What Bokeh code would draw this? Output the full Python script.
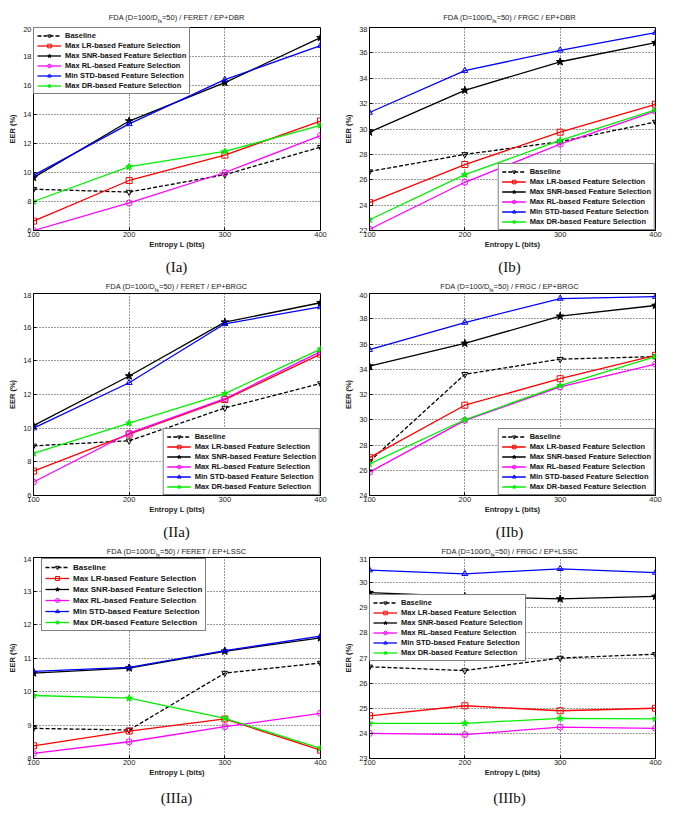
from bokeh.plotting import figure
from bokeh.models import Range1d, Legend, LegendItem, Div
from bokeh.layouts import column, row
from bokeh.embed import file_html
from bokeh.resources import INLINE

# ---------------- data ----------------
entropy = [100, 200, 300, 400]
series_labels = ["Baseline",
                 "Max LR-based Feature Selection",
                 "Max SNR-based Feature Selection",
                 "Max RL-based Feature Selection",
                 "Min STD-based Feature Selection",
                 "Max DR-based Feature Selection"]

# (Ia) FERET / EP+DBR
ia_baseline = [8.85, 8.65, 9.85, 11.75]
ia_lr = [6.65, 9.45, 11.2, 13.55]
ia_snr = [9.65, 13.55, 16.2, 19.3]
ia_rl = [6.0, 7.9, 10.0, 12.55]
ia_std = [9.8, 13.35, 16.4, 18.75]
ia_dr = [8.0, 10.4, 11.45, 13.25]

# (Ib) FRGC / EP+DBR
ib_baseline = [26.65, 28.0, 29.0, 30.55]
ib_lr = [24.2, 27.2, 29.75, 31.95]
ib_snr = [29.75, 33.05, 35.3, 36.8]
ib_rl = [22.1, 25.8, 28.8, 31.4]
ib_std = [31.3, 34.6, 36.2, 37.6]
ib_dr = [22.85, 26.4, 29.1, 31.5]

# (IIa) FERET / EP+BRGC
iia_baseline = [8.95, 9.25, 11.2, 12.65]
iia_lr = [7.45, 9.65, 11.7, 14.4]
iia_snr = [10.15, 13.1, 16.3, 17.45]
iia_rl = [6.8, 9.7, 11.75, 14.55]
iia_std = [10.0, 12.7, 16.2, 17.2]
iia_dr = [8.5, 10.3, 12.05, 14.7]

# (IIb) FRGC / EP+BRGC
iib_baseline = [26.7, 33.6, 34.8, 35.0]
iib_lr = [27.0, 31.15, 33.25, 35.1]
iib_snr = [34.25, 36.05, 38.2, 39.05]
iib_rl = [25.85, 29.95, 32.6, 34.4]
iib_std = [35.55, 37.7, 39.6, 39.75]
iib_dr = [26.5, 30.0, 32.7, 35.0]

# (IIIa) FERET / EP+LSSC
iiia_baseline = [8.9, 8.85, 10.55, 10.85]
iiia_lr = [8.38, 8.82, 9.18, 8.25]
iiia_snr = [10.55, 10.7, 11.2, 11.6]
iiia_rl = [8.15, 8.5, 8.95, 9.35]
iiia_std = [10.6, 10.72, 11.22, 11.65]
iiia_dr = [9.88, 9.8, 9.2, 8.3]

# (IIIb) FRGC / EP+LSSC
iiib_baseline = [26.65, 26.5, 27.0, 27.15]
iiib_lr = [24.7, 25.1, 24.9, 25.0]
iiib_snr = [29.6, 29.45, 29.35, 29.45]
iiib_rl = [24.0, 23.95, 24.25, 24.2]
iiib_std = [30.5, 30.35, 30.55, 30.4]
iiib_dr = [24.4, 24.4, 24.6, 24.58]

# ---------------- styles ----------------
STYLES = [
    dict(color="black", dash="4 2", marker="inverted_triangle", fill=None, size=6),
    dict(color="#ff0000", dash="solid", marker="square", fill=None, size=6),
    dict(color="black", dash="solid", marker="star", fill="black", size=8),
    dict(color="#ff00ff", dash="solid", marker="circle", fill=None, size=6),
    dict(color="#0000ff", dash="solid", marker="triangle", fill=None, size=6),
    dict(color="#00ee00", dash="solid", marker="star", fill="#00ee00", size=7),
]

FONT = "Liberation Sans"


def title_div(dataset, method, width, fw, bl, h, lh):
    html = ('<div style="width:%dpx; margin-left:%dpx; text-align:center; '
            'font-family:\'Liberation Sans\'; font-size:7.5px; color:#222; '
            'line-height:%dpx; white-space:nowrap;">'
            'FDA (D=100/D<span style="font-size:5.5px; position:relative; top:2.5px;">fs</span>'
            '=50) / %s / %s</div>') % (fw, bl, lh, dataset, method)
    return Div(text=html, width=width, height=h, margin=0)


def caption_div(caption, width, fw, bl, h, lh):
    html = ('<div style="width:%dpx; margin-left:%dpx; text-align:center; '
            'font-family:\'Liberation Serif\'; font-size:15px; color:#111; '
            'line-height:%dpx; white-space:nowrap;">%s</div>') % (fw, bl, lh, caption)
    return Div(text=html, width=width, height=h, margin=0)


def make_panel(dataset, method, caption, series, yr, yticks, legend_loc,
               fw, fh, bl, br, tdiv, cdiv, lfont="7.5px", lh=9):
    bt, bb = 1, 22
    p = figure(width=bl + fw + br, height=bt + fh + bb, output_backend="svg",
               toolbar_location=None, x_range=Range1d(100, 400),
               y_range=Range1d(*yr), min_border_left=bl, min_border_right=br,
               min_border_top=bt, min_border_bottom=bb, margin=0,
               background_fill_color="white", border_fill_color="white")
    p.outline_line_color = "black"
    p.outline_line_width = 1
    p.outline_line_alpha = 1

    p.xaxis.ticker = entropy
    p.yaxis.ticker = yticks
    for ax in (p.xaxis[0], p.yaxis[0]):
        ax.major_tick_in = 3
        ax.major_tick_out = 0
        ax.minor_tick_line_color = None
        ax.axis_line_color = "black"
        ax.major_label_text_font = FONT
        ax.major_label_text_font_size = "7.5px"
        ax.major_label_text_color = "#222222"
        ax.major_label_standoff = 2
        ax.axis_label_text_font = FONT
        ax.axis_label_text_font_size = "7.5px"
        ax.axis_label_text_font_style = "bold"
        ax.axis_label_text_color = "#222222"
        ax.axis_label_standoff = 3
    p.xaxis.axis_label = "Entropy L (bits)"
    p.xaxis.axis_label_standoff = 0
    p.xaxis.major_label_standoff = 1
    p.yaxis.axis_label = "EER (%)"

    p.xgrid.ticker = entropy
    p.ygrid.ticker = yticks
    for g in (p.xgrid[0], p.ygrid[0]):
        g.grid_line_color = "#333333"
        g.grid_line_dash = "1 2"
        g.grid_line_width = 1

    items = []
    for lab, ys, st in zip(series_labels, series, STYLES):
        lr = p.line(entropy, ys, line_color=st["color"], line_width=1.3,
                    line_dash=st["dash"])
        sr = p.scatter(entropy, ys, marker=st["marker"], size=st["size"],
                       line_color=st["color"], fill_color=st["fill"],
                       line_width=1)
        items.append(LegendItem(label=lab, renderers=[lr, sr]))

    legend = Legend(items=items, location=legend_loc, margin=0, padding=3,
                    spacing=1, label_height=lh, glyph_height=lh, glyph_width=24,
                    label_standoff=4, label_text_font=FONT,
                    label_text_font_size=lfont,
                    label_text_font_style="bold", label_text_color="#111111",
                    border_line_color="black", border_line_width=1,
                    background_fill_color="white", background_fill_alpha=1)
    p.add_layout(legend)

    w = bl + fw + br
    d1 = title_div(dataset, method, w, fw, bl, *tdiv)
    d2 = caption_div(caption, w, fw, bl, *cdiv)
    return column(d1, p, d2, spacing=0, margin=0)


LEFT = dict(fw=287, bl=33, br=21)
RIGHT = dict(fw=291, bl=23, br=14)

c1 = make_panel("FERET", "EP+DBR", "(Ia)",
                [ia_baseline, ia_lr, ia_snr, ia_rl, ia_std, ia_dr],
                (6, 20), [6, 8, 10, 12, 14, 16, 18, 20], "top_left",
                fh=203, tdiv=(26, 36), cdiv=(25, 30), **LEFT)
c2 = make_panel("FRGC", "EP+DBR", "(Ib)",
                [ib_baseline, ib_lr, ib_snr, ib_rl, ib_std, ib_dr],
                (22, 38), [22, 24, 26, 28, 30, 32, 34, 36, 38],
                "bottom_right", fh=203, tdiv=(26, 36), cdiv=(25, 30), **RIGHT)
c3 = make_panel("FERET", "EP+BRGC", "(IIa)",
                [iia_baseline, iia_lr, iia_snr, iia_rl, iia_std, iia_dr],
                (6, 18), [6, 8, 10, 12, 14, 16, 18], "bottom_right",
                fh=202, tdiv=(15, 16), cdiv=(25, 30), **LEFT)
c4 = make_panel("FRGC", "EP+BRGC", "(IIb)",
                [iib_baseline, iib_lr, iib_snr, iib_rl, iib_std, iib_dr],
                (24, 40), [24, 26, 28, 30, 32, 34, 36, 38, 40],
                "bottom_right", fh=202, tdiv=(15, 16), cdiv=(25, 30), **RIGHT)
c5 = make_panel("FERET", "EP+LSSC", "(IIIa)",
                [iiia_baseline, iiia_lr, iiia_snr, iiia_rl, iiia_std, iiia_dr],
                (8, 14), [8, 9, 10, 11, 12, 13, 14], (8, 127),
                fh=201, tdiv=(14, 16), cdiv=(30, 36), lfont="8px", lh=10, **LEFT)
c6 = make_panel("FRGC", "EP+LSSC", "(IIIb)",
                [iiib_baseline, iiib_lr, iiib_snr, iiib_rl, iiib_std, iiib_dr],
                (23, 31), [23, 24, 25, 26, 27, 28, 29, 30, 31], (0, 97),
                fh=201, tdiv=(14, 16), cdiv=(30, 36), **RIGHT)

layout = column(row(c1, c2, spacing=0, margin=0),
                row(c3, c4, spacing=0, margin=0),
                row(c5, c6, spacing=0, margin=0),
                spacing=0, margin=0)

open("out.html", "w").write(file_html(layout, INLINE))
